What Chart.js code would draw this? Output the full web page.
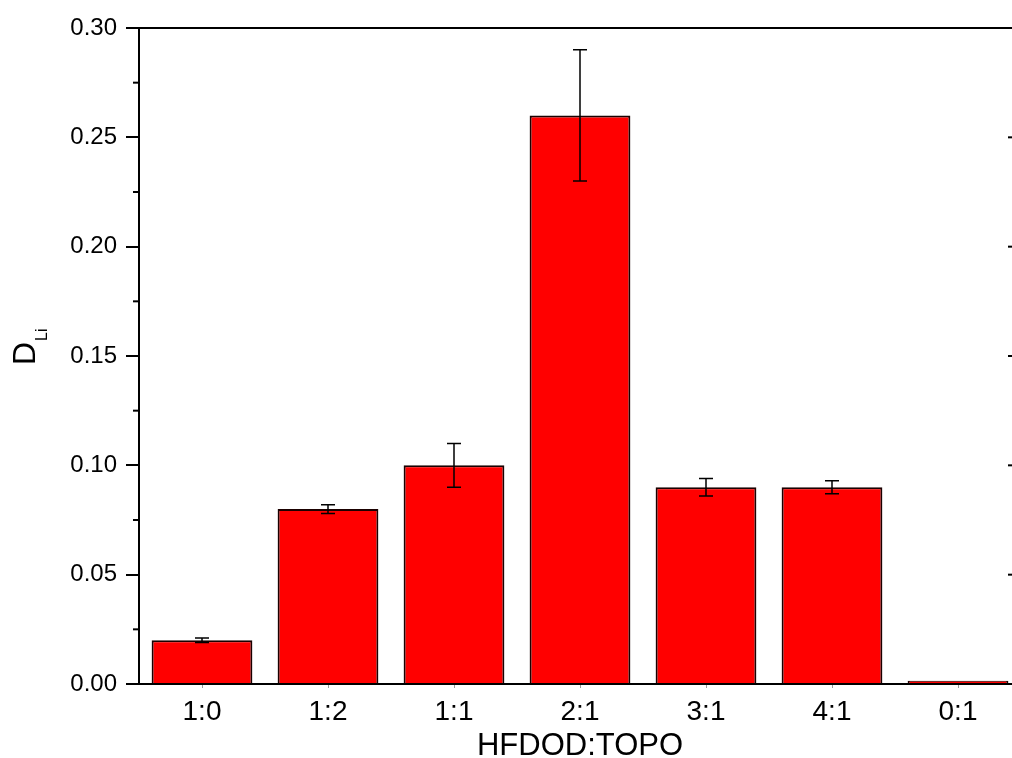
<!DOCTYPE html>
<html>
<head>
<meta charset="utf-8">
<script src="https://cdn.jsdelivr.net/npm/chart.js@4"></script>
<style>
  html, body { margin: 0; padding: 0; background: #fff; overflow: hidden; width: 1012px; height: 758px; }
  #wrap { width: 1030px; height: 765px; }
</style>
</head>
<body>
<div id="wrap"><canvas id="chart" width="1030" height="765"></canvas></div>
<script>
// 資料
const categories = ['1:0', '1:2', '1:1', '2:1', '3:1', '4:1', '0:1'];
const values = [0.02, 0.08, 0.10, 0.26, 0.09, 0.09, 0.0015];
const errors = [0.001, 0.002, 0.01, 0.03, 0.004, 0.003, 0];
const yTicks = [0, 0.05, 0.10, 0.15, 0.20, 0.25, 0.30];

const FONT = 'Arial, "Liberation Sans", sans-serif';

// 誤差線、外框、次刻度、Y 軸標題
const extras = {
  id: 'extras',
  afterDatasetsDraw(chart) {
    const ctx = chart.ctx;
    const x = chart.scales.x, y = chart.scales.y;
    const area = chart.chartArea;
    ctx.save();
    ctx.strokeStyle = '#000';
    ctx.lineWidth = 1.5;
    values.forEach((v, i) => {
      const e = errors[i];
      if (!e) return;
      const cx = x.getPixelForValue(i);
      const top = y.getPixelForValue(v + e);
      const bot = y.getPixelForValue(v - e);
      ctx.beginPath();
      ctx.moveTo(cx, top); ctx.lineTo(cx, bot);
      ctx.moveTo(cx - 7, top); ctx.lineTo(cx + 7, top);
      ctx.moveTo(cx - 7, bot); ctx.lineTo(cx + 7, bot);
      ctx.stroke();
    });
    // 上、右邊框
    ctx.lineWidth = 2;
    ctx.beginPath();
    ctx.moveTo(area.left, area.top); ctx.lineTo(area.right, area.top);
    ctx.lineTo(area.right, area.bottom);
    ctx.stroke();
    // 右側向內刻度
    yTicks.forEach(t => {
      const py = y.getPixelForValue(t);
      ctx.beginPath();
      ctx.moveTo(area.right, py); ctx.lineTo(area.right - 13, py);
      ctx.stroke();
    });
    // 左側次刻度
    for (let i = 0; i < yTicks.length - 1; i++) {
      const py = y.getPixelForValue((yTicks[i] + yTicks[i + 1]) / 2);
      ctx.beginPath();
      ctx.moveTo(area.left, py); ctx.lineTo(area.left - 6, py);
      ctx.stroke();
    }
    // Y 軸標題 D_Li
    ctx.translate(35, (area.top + area.bottom) / 2);
    ctx.rotate(-Math.PI / 2);
    ctx.fillStyle = '#000';
    ctx.textBaseline = 'alphabetic';
    ctx.textAlign = 'left';
    ctx.font = '32px ' + FONT;
    ctx.fillText('D', -9, 0);
    ctx.font = '16px ' + FONT;
    ctx.fillText('Li', 15, 12);
    ctx.restore();
  }
};

new Chart(document.getElementById('chart'), {
  type: 'bar',
  data: {
    labels: categories,
    datasets: [{
      data: values,
      backgroundColor: '#ff0000',
      borderColor: '#1a0000',
      borderWidth: 2,
      categoryPercentage: 0.8,
      barPercentage: 1.0
    }]
  },
  options: {
    responsive: false,
    animation: false,
    layout: { padding: { top: 28, right: 9, left: 0, bottom: 0 } },
    plugins: { legend: { display: false }, tooltip: { enabled: false } },
    scales: {
      x: {
        offset: true,
        afterFit: (s) => { s.height = 81; },
        grid: { drawOnChartArea: false, tickLength: 4, color: '#999', offset: false },
        border: { display: true, color: '#000', width: 2 },
        ticks: { color: '#000', font: { size: 28, family: FONT }, padding: 7 },
        title: { display: true, text: 'HFDOD:TOPO', color: '#000', font: { size: 31, family: FONT }, padding: { top: 0, bottom: 0 } }
      },
      y: {
        min: 0,
        max: 0.30,
        afterFit: (s) => { s.width = 139; },
        afterBuildTicks: (s) => { s.ticks = yTicks.map(v => ({ value: v })); },
        grid: { drawOnChartArea: false, tickLength: 13, color: '#000', lineWidth: 2 },
        border: { display: true, color: '#000', width: 2 },
        ticks: { color: '#000', font: { size: 24, family: FONT }, padding: 9, callback: (v) => Number(v).toFixed(2) }
      }
    }
  },
  plugins: [extras]
});
</script>
</body>
</html>
